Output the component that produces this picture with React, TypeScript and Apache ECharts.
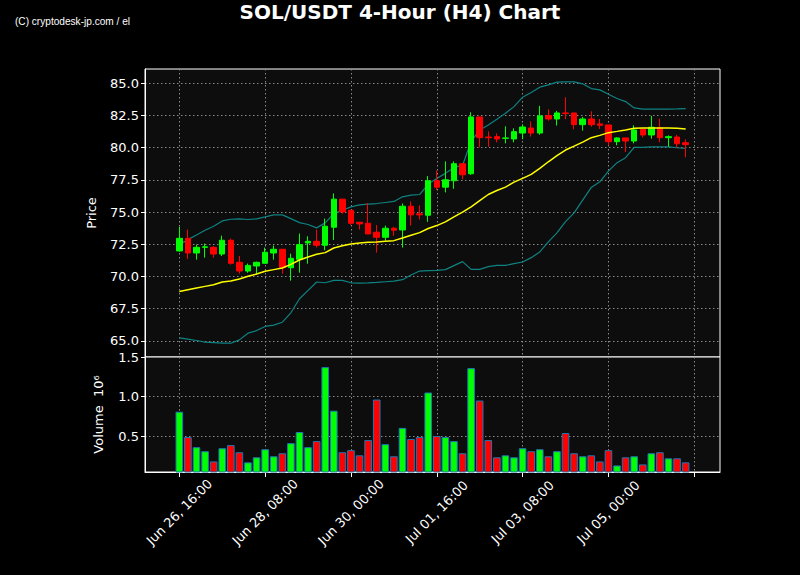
import React, { useEffect, useRef } from "react";
import * as echarts from "echarts";

// ---- Data ----
const START_UTC = Date.UTC(2025, 5, 26, 16, 0); // Jun 26, 16:00, 4-hour candles
const PAD_LEFT = 4;
const PAD_RIGHT = 4;

const opens = [
  71.98, 72.96, 71.82, 72.26, 72.26, 71.74, 72.81, 71.1, 70.42, 70.81,
  71.02, 71.82, 72.11, 70.68, 71.33, 72.6, 72.73, 72.42, 73.82, 76.0,
  75.14, 74.21, 74.13, 73.43, 73.04, 73.74, 73.61, 75.45, 74.86, 74.75,
  77.43, 76.93, 77.43, 78.75, 77.97, 82.38, 80.82, 80.85, 80.72, 80.67,
  81.13, 81.52, 81.13, 82.49, 82.22, 82.69, 82.69, 81.78, 82.22, 81.84,
  81.76, 80.46, 80.75, 80.51, 81.42, 80.98, 81.55, 80.77, 80.82, 80.38,
];
const closes = [
  72.96, 71.82, 72.26, 72.3, 71.74, 72.81, 71.02, 70.42, 70.86, 71.1,
  71.88, 72.11, 70.68, 71.41, 72.47, 72.73, 72.42, 73.9, 76.0, 75.01,
  74.13, 74.08, 73.3, 73.04, 73.74, 73.59, 75.45, 74.78, 74.78, 77.43,
  76.93, 77.5, 78.75, 77.89, 82.38, 80.77, 80.77, 80.67, 80.75, 81.24,
  81.6, 81.13, 82.46, 82.22, 82.69, 82.64, 81.78, 82.22, 81.78, 81.73,
  80.46, 80.75, 80.51, 81.37, 80.98, 81.58, 80.77, 80.85, 80.3, 80.23,
];
const lows = [
  71.93, 71.36, 71.3, 71.46, 71.46, 71.59, 70.92, 70.21, 70.29, 70.19,
  71.02, 71.3, 70.21, 69.67, 70.29, 70.99, 72.24, 72.03, 72.83, 74.86,
  74.0, 73.64, 73.3, 71.85, 72.78, 73.15, 72.24, 73.95, 74.42, 74.24,
  76.7, 76.52, 76.8, 77.53, 77.89, 80.02, 80.07, 80.41, 80.33, 80.41,
  80.64, 80.85, 81.0, 82.09, 81.71, 82.2, 81.42, 81.32, 81.63, 81.45,
  80.18, 80.18, 79.66, 80.33, 80.8, 80.69, 80.41, 80.07, 79.99, 79.24,
];
const highs = [
  73.85, 73.64, 72.47, 72.55, 72.34, 73.17, 72.94, 71.59, 71.0, 71.15,
  72.24, 72.4, 72.11, 71.77, 73.33, 73.12, 73.64, 74.49, 76.44, 76.0,
  75.14, 74.21, 75.71, 74.0, 73.95, 73.85, 75.66, 75.82, 75.51, 77.79,
  78.23, 78.93, 78.93, 78.75, 82.74, 82.38, 81.26, 81.1, 81.65, 81.5,
  81.81, 82.04, 83.24, 82.98, 82.85, 83.91, 82.69, 82.38, 82.82, 82.22,
  81.76, 80.8, 80.75, 81.73, 81.42, 82.46, 82.25, 80.95, 81.0, 80.64,
];
const sma20 = [
  68.84, 68.97, 69.1, 69.23, 69.36, 69.57, 69.64, 69.8, 70.01, 70.19,
  70.4, 70.53, 70.66, 70.94, 71.28, 71.51, 71.72, 71.85, 72.21, 72.38,
  72.52, 72.6, 72.65, 72.68, 72.73, 72.78, 72.99, 73.2, 73.4, 73.72,
  73.95, 74.24, 74.62, 74.99, 75.4, 75.89, 76.36, 76.67, 76.93, 77.32,
  77.61, 77.92, 78.39, 78.9, 79.37, 79.81, 80.12, 80.43, 80.77, 80.95,
  81.16, 81.26, 81.37, 81.5, 81.52, 81.52, 81.52, 81.52, 81.5, 81.45,
];
const upperBand = [
  72.47, 72.86, 73.22, 73.59, 73.9, 74.31, 74.44, 74.47, 74.42, 74.47,
  74.62, 74.78, 74.78, 74.49, 74.18, 74.03, 73.77, 74.16, 74.88, 75.14,
  75.4, 75.56, 75.61, 75.66, 75.74, 75.82, 76.18, 76.31, 76.36, 77.17,
  77.61, 78.0, 78.46, 78.62, 80.49, 81.37, 81.76, 82.2, 82.67, 83.18,
  83.91, 84.27, 84.69, 84.87, 85.08, 85.1, 85.1, 84.95, 84.58, 84.48,
  84.14, 83.81, 83.57, 83.08, 82.98, 82.98, 82.98, 82.98, 83.0, 83.03,
];
const lowerBand = [
  65.23, 65.13, 65.03, 64.9, 64.87, 64.82, 64.82, 65.08, 65.6, 65.8,
  66.12, 66.22, 66.45, 67.18, 68.27, 68.92, 69.57, 69.51, 69.7, 69.7,
  69.51, 69.49, 69.51, 69.54, 69.59, 69.64, 69.75, 70.11, 70.42, 70.45,
  70.47, 70.53, 70.84, 71.15, 70.55, 70.55, 70.76, 70.86, 70.86, 70.99,
  71.12, 71.46, 71.9, 72.68, 73.38, 74.26, 74.94, 75.92, 76.91, 77.35,
  78.18, 78.83, 79.22, 80.02, 80.02, 80.05, 80.05, 80.05, 79.99, 79.94,
];
const volumeMillions = [
  0.808, 0.487, 0.359, 0.308, 0.179, 0.346, 0.385, 0.295, 0.167, 0.231,
  0.333, 0.244, 0.282, 0.41, 0.551, 0.359, 0.436, 1.372, 0.821, 0.295,
  0.321, 0.256, 0.449, 0.962, 0.397, 0.244, 0.603, 0.462, 0.487, 1.051,
  0.5, 0.487, 0.436, 0.282, 1.359, 0.949, 0.449, 0.231, 0.256, 0.231,
  0.346, 0.308, 0.333, 0.244, 0.308, 0.538, 0.282, 0.244, 0.256, 0.179,
  0.321, 0.128, 0.231, 0.244, 0.141, 0.282, 0.295, 0.218, 0.218, 0.167,
];
const tickEvery = 10; // label every 10 candles (40 hours)

const MONTHS = ["Jan", "Feb", "Mar", "Apr", "May", "Jun", "Jul", "Aug", "Sep", "Oct", "Nov", "Dec"];
function fmtTime(t: number): string {
  const d = new Date(t);
  const dd = String(d.getUTCDate()).padStart(2, "0");
  const hh = String(d.getUTCHours()).padStart(2, "0");
  return `${MONTHS[d.getUTCMonth()]} ${dd}, ${hh}:00`;
}

const N = opens.length;
const TOTAL = PAD_LEFT + N + PAD_RIGHT;
const categories = Array.from({ length: TOTAL }, (_, i) =>
  fmtTime(START_UTC + (i - PAD_LEFT) * 4 * 3600 * 1000)
);

const UP = "#00ff00";
const DOWN = "#ff0000";
const FONT = "DejaVu Sans";
const GRID_LINE = { color: "#8a8a8a", width: 1, type: [1.5, 2.5] as any };

const isTick = (i: number) => {
  const d = i - PAD_LEFT;
  return d >= 0 && d <= N && d % tickEvery === 0;
};
const isLabel = (i: number) => {
  const d = i - PAD_LEFT;
  return d >= 0 && d < N && d % tickEvery === 0;
};

export default function App() {
  const ref = useRef<HTMLDivElement>(null);

  useEffect(() => {
    document.body.style.margin = "0";
    document.body.style.background = "#000";
    if (!ref.current) return;
    const chart = echarts.init(ref.current, null, { renderer: "svg" });

    const candleData = opens.map((o, i) => [i + PAD_LEFT, o, closes[i], lows[i], highs[i]]);
    const lineData = (arr: number[]) => arr.map((v, i) => [i + PAD_LEFT, v]);
    const volData = volumeMillions.map((v, i) => ({
      value: [i + PAD_LEFT, v],
      itemStyle: { color: closes[i] >= opens[i] ? UP : DOWN },
    }));

    const gridCommon = {
      left: 145,
      width: 575,
      show: true,
      backgroundColor: "#0d0d0d",
      borderColor: "#ffffff",
      borderWidth: 1,
    };

    chart.setOption({
      animation: false,
      backgroundColor: "#000000",
      textStyle: { fontFamily: FONT },
      title: {
        text: "SOL/USDT 4-Hour (H4) Chart",
        left: "center",
        top: 1,
        padding: 0,
        textStyle: { color: "#ffffff", fontSize: 20, fontWeight: "bold", fontFamily: FONT, lineHeight: 22 },
      },
      graphic: [
        {
          type: "text",
          left: 15,
          top: 15,
          scaleX: 0.92,
          style: {
            text: "(C) cryptodesk-jp.com / el",
            fill: "#ffffff",
            fontSize: 11,
            fontFamily: "Liberation Sans Narrow, Liberation Sans, sans-serif",
          },
        },
      ],
      grid: [
        { ...gridCommon, top: 69, height: 288 },
        { ...gridCommon, top: 357, height: 115 },
      ],
      xAxis: [
        {
          type: "category",
          gridIndex: 0,
          data: categories,
          boundaryGap: false,
          axisLine: { show: false },
          axisTick: { show: false },
          axisLabel: { show: false },
          splitLine: { show: true, interval: (i: number) => isTick(i), lineStyle: GRID_LINE },
        },
        {
          type: "category",
          gridIndex: 1,
          data: categories,
          boundaryGap: false,
          axisLine: { show: true, lineStyle: { color: "#ffffff", width: 1 } },
          axisTick: {
            show: true,
            interval: (i: number) => isTick(i),
            length: 5,
            lineStyle: { color: "#ffffff", width: 1 },
          },
          axisLabel: {
            show: true,
            interval: (i: number) => isLabel(i),
            rotate: 45,
            align: "center",
            verticalAlign: "middle",
            color: "#ffffff",
            fontSize: 13,
            fontFamily: FONT,
            margin: 40,
          },
          splitLine: { show: true, interval: (i: number) => isTick(i), lineStyle: GRID_LINE },
        },
      ],
      yAxis: [
        {
          type: "value",
          gridIndex: 0,
          min: 63.75,
          max: 86.1,
          minInterval: 2.5,
          maxInterval: 2.5,
          name: "Price",
          nameLocation: "middle",
          nameGap: 47,
          nameTextStyle: { color: "#ffffff", fontSize: 13, fontFamily: FONT },
          axisLine: { show: true, lineStyle: { color: "#ffffff" } },
          axisTick: { show: true, length: 4, lineStyle: { color: "#ffffff" } },
          axisLabel: {
            color: "#ffffff",
            fontSize: 13,
            fontFamily: FONT,
            margin: 6,
            showMinLabel: false,
            showMaxLabel: false,
            formatter: (v: number) => v.toFixed(1),
          },
          splitLine: { show: true, lineStyle: GRID_LINE },
        },
        {
          type: "value",
          gridIndex: 1,
          min: 0.045,
          max: 1.5,
          minInterval: 0.5,
          maxInterval: 0.5,
          name: "Volume  10⁶",
          nameLocation: "middle",
          nameGap: 40,
          nameTextStyle: { color: "#ffffff", fontSize: 13, fontFamily: FONT },
          axisLine: { show: true, lineStyle: { color: "#ffffff" } },
          axisTick: { show: true, length: 4, lineStyle: { color: "#ffffff" } },
          axisLabel: {
            color: "#ffffff",
            fontSize: 13,
            fontFamily: FONT,
            margin: 6,
            showMinLabel: false,
            formatter: (v: number) => v.toFixed(1),
          },
          splitLine: { show: true, lineStyle: GRID_LINE },
        },
      ],
      series: [
        {
          type: "line",
          name: "Upper",
          xAxisIndex: 0,
          yAxisIndex: 0,
          data: lineData(upperBand),
          showSymbol: false,
          lineStyle: { color: "#0f8282", width: 1.2 },
          z: 2,
        },
        {
          type: "line",
          name: "Lower",
          xAxisIndex: 0,
          yAxisIndex: 0,
          data: lineData(lowerBand),
          showSymbol: false,
          lineStyle: { color: "#0f8282", width: 1.2 },
          z: 2,
        },
        {
          type: "candlestick",
          xAxisIndex: 0,
          yAxisIndex: 0,
          data: candleData,
          encode: { x: 0, y: [1, 2, 3, 4] },
          barWidth: 6,
          itemStyle: {
            color: UP,
            color0: DOWN,
            borderColor: UP,
            borderColor0: DOWN,
            borderWidth: 1,
          },
          z: 3,
        },
        {
          type: "line",
          name: "SMA",
          xAxisIndex: 0,
          yAxisIndex: 0,
          data: lineData(sma20),
          showSymbol: false,
          lineStyle: { color: "#ffff00", width: 1.5 },
          z: 4,
        },
        {
          type: "bar",
          xAxisIndex: 1,
          yAxisIndex: 1,
          data: volData,
          barWidth: 7.6,
          itemStyle: { borderColor: "#1f77b4", borderWidth: 1 },
        },
      ],
    });

    return () => chart.dispose();
  }, []);

  return <div ref={ref} style={{ width: 800, height: 575 }} />;
}
